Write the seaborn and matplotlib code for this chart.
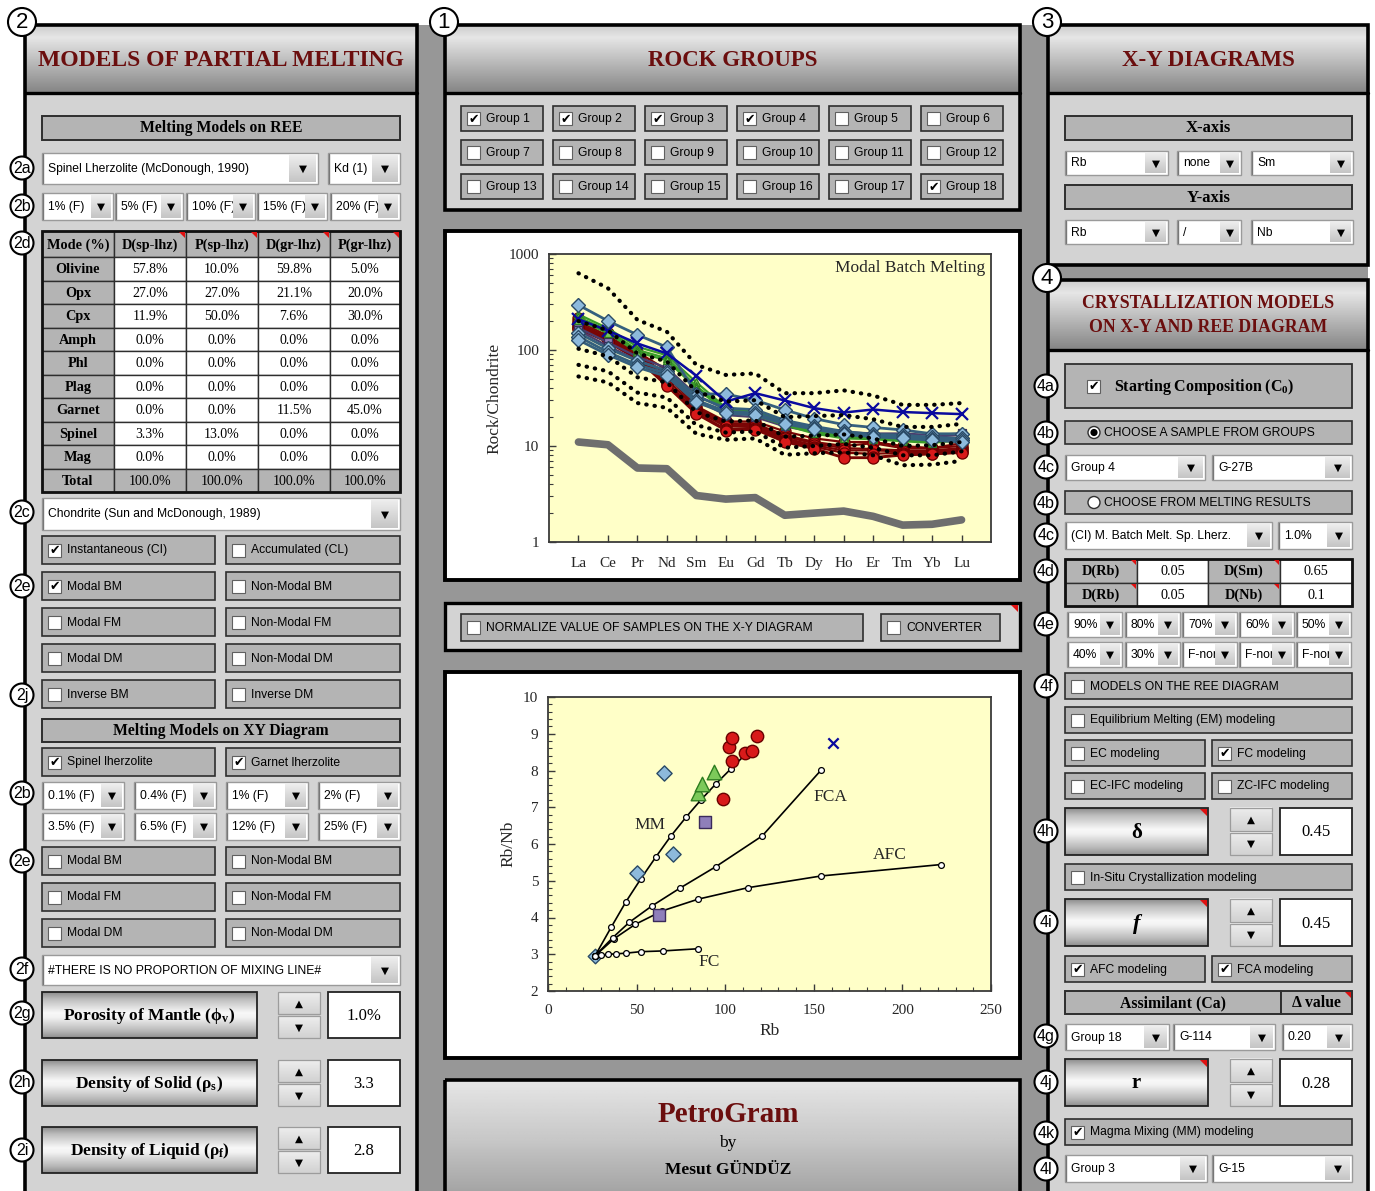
import numpy as np
import pandas as pd
import matplotlib
matplotlib.use("Agg")
import matplotlib.pyplot as plt
from matplotlib.patches import Rectangle, Circle, Polygon
from matplotlib.ticker import MultipleLocator, FixedLocator, LogLocator, NullFormatter
import seaborn as sns

sns.set_theme(style="ticks")
plt.rcParams['font.family'] = ['Liberation Sans', 'DejaVu Sans']
plt.rcParams['mathtext.fontset'] = 'custom'
plt.rcParams['mathtext.rm'] = 'Liberation Serif'
plt.rcParams['mathtext.it'] = 'Liberation Serif:italic'
plt.rcParams['mathtext.bf'] = 'Liberation Serif:bold'

# ---------------- REE diagram (chondrite normalised) ----------------
REE = ["La", "Ce", "Pr", "Nd", "Sm", "Eu", "Gd", "Tb", "Dy", "Ho", "Er", "Tm", "Yb", "Lu"]

source_ree = [11.0, 10.3, 5.9, 5.8, 3.05, 2.8, 2.9, 1.9, 2.0, 2.1, 1.85, 1.5, 1.53, 1.7]

melt_f1 = [630, 440, 206, 155, 70, 55, 57, 35.5, 35.5, 38, 33.6, 26.8, 26.8, 28]
melt_f5 = [200, 160, 92, 76, 37, 29, 30, 20, 20.5, 21, 19, 15.8, 15.8, 17]
melt_f10 = [103, 86, 52, 46, 22.5, 18, 18.5, 12.5, 12.8, 13.2, 12, 10, 10.2, 11]
melt_f15 = [70, 60, 36, 32, 16.5, 13.8, 14.2, 9.6, 10, 10.5, 9.6, 8, 8, 8.8]
melt_f20 = [53, 46, 28, 25, 13.4, 11.6, 12, 8.1, 8.4, 8.6, 8, 6.3, 6.4, 7.0]

grp1_ree = [
    [294, 201, 144, 107, 35, 34.7, 30, 23.8, 19.3, 16.7, 15.6, 14.7, 13.4, 13.4],
    [150, 104, 77, 61, 33, 24.8, 23.9, 18.5, 16, 14.2, 13.2, 13, 12.3, 12],
    [138, 95, 70, 57, 30, 23, 22, 17.5, 15.5, 13.8, 12.8, 12.3, 11.8, 11.5],
    [127, 89, 66, 53, 28.6, 22, 21, 17, 15, 13.2, 12.5, 12, 11.5, 11],
]
grp2_ree = [
    [170, 120, 85, 65, 34, 24, 23, 18, 15.5, 14, 13.5, 13.5, 13, 13.5],
    [160, 110, 78, 60, 30, 21, 20, 16, 14, 13, 12.5, 12.5, 12.5, 13],
]
grp3_ree = [
    [235, 168, 108, 88, 46, 25, 23, 18, 14.5, 13, 12.5, 12, 11.5, 12],
    [220, 160, 100, 82, 42, 24, 22, 17, 14, 12.5, 12, 11.5, 11, 11.8],
    [205, 150, 95, 78, 40, 23, 21, 16.5, 13.5, 12, 11.8, 11.2, 10.8, 11.5],
]
grp4_ree = [
    [215, 150, 95, 62, 26, 18, 18, 14.2, 12, 11, 11, 10, 9.5, 10.7],
    [200, 140, 92, 55, 25, 17.3, 17, 13, 11, 10, 10.7, 9.5, 9.5, 10],
    [190, 135, 90, 50, 24, 16.5, 16.5, 12.5, 10.7, 9.5, 9.3, 9, 9, 9.5],
    [182, 133, 88, 46, 23, 16, 16, 12, 10.2, 9, 9, 8.8, 8.7, 9.2],
    [175, 128, 85, 44, 22, 15, 15.5, 11.6, 9.8, 8.5, 8.3, 8.5, 8.5, 8.8],
    [170, 125, 82, 43, 22, 14.8, 15, 11.2, 9.5, 7.6, 7.6, 8.2, 8.3, 8.6],
    [165, 120, 80, 42, 21.5, 14.5, 14.8, 11, 9.3, 7.5, 7.5, 8, 8.2, 8.5],
]
grp18_ree = [[209, 159, 117, 92, 54, 29, 35.5, 29.8, 24.8, 22.3, 24, 22.6, 22, 21.5]]

# ---------------- X-Y diagram (Rb vs Rb/Nb) ----------------
grp1_rb, grp1_rbnb = [26.6, 50.0, 70.5, 65.3], [2.96, 5.21, 5.73, 7.92]
grp2_rb, grp2_rbnb = [62.6, 88.5], [4.08, 6.60]
grp3_rb, grp3_rbnb = [84.5, 86.8, 93.5], [7.39, 7.64, 7.95]
grp4_rb = [98.7, 101.9, 103.6, 103.8, 111.3, 115.1, 117.8]
grp4_rbnb = [7.23, 8.65, 8.89, 8.27, 8.47, 8.53, 8.95]
grp18_rb, grp18_rbnb = [160.7], [8.75]

mm_rb = [26.6, 35.6, 44.0, 52.5, 60.9, 69.4, 77.9, 86.3, 94.8, 103.3, 111.9]
mm_rbnb = [2.96, 3.73, 4.43, 5.06, 5.65, 6.22, 6.73, 7.20, 7.64, 8.05, 8.46]
fc_rb = [26.6, 29.7, 33.7, 38.4, 44.0, 52.3, 64.7, 84.8]
fc_rbnb = [2.96, 2.97, 3.00, 3.01, 3.03, 3.07, 3.09, 3.15]
fca_rb = [26.6, 36.5, 45.9, 58.5, 74.5, 94.6, 120.9, 154.1]
fca_rbnb = [2.96, 3.45, 3.87, 4.31, 4.80, 5.38, 6.22, 8.01]
afc_rb = [26.6, 37.2, 49.1, 64.5, 84.8, 112.7, 154.1, 221.6]
afc_rbnb = [2.96, 3.42, 3.81, 4.18, 4.50, 4.81, 5.13, 5.44]

# ---------------- mineral modes table ----------------
minerals = ["Olivine", "Opx", "Cpx", "Amph", "Phl", "Plag", "Garnet", "Spinel", "Mag"]
mode_cols = ["Mode (%)", "D(sp-lhz)", "P(sp-lhz)", "D(gr-lhz)", "P(gr-lhz)"]
d_sp_lhz = [57.8, 27.0, 11.9, 0.0, 0.0, 0.0, 0.0, 3.3, 0.0]
p_sp_lhz = [10.0, 27.0, 50.0, 0.0, 0.0, 0.0, 0.0, 13.0, 0.0]
d_gr_lhz = [59.8, 21.1, 7.6, 0.0, 0.0, 0.0, 11.5, 0.0, 0.0]
p_gr_lhz = [5.0, 20.0, 30.0, 0.0, 0.0, 0.0, 45.0, 0.0, 0.0]

# ====================================================================
W, H = 1375, 1191
fig = plt.figure(figsize=(W / 100, H / 100), dpi=100)
fig.patch.set_facecolor('white')
ui = fig.add_axes([0, 0, 1, 1])
ui.axis('off')
ui.set_xlim(0, W)
ui.set_ylim(H, 0)
ui.set_autoscale_on(False)

SANS = ['Liberation Sans', 'DejaVu Sans']
SERIF = ['Liberation Serif', 'DejaVu Serif']
SYM = ['DejaVu Sans']
BG = '#979797'
BODY = '#d3d3d3'
BOX = '#b4b4b4'
EDGE = '#2e2e2e'
TITLE = '#6b0e0e'
HEAD = [(0, 0.80), (0.18, 0.90), (1, 0.52)]
METAL = [(0, 0.55), (0.15, 0.74), (0.45, 0.97), (0.55, 0.95), (0.85, 0.72), (1, 0.56)]


def rect(x0, y0, x1, y1, fc='none', ec='none', lw=1.0, z=1):
    ui.add_patch(Rectangle((x0, y0), x1 - x0, y1 - y0, facecolor=fc,
                           edgecolor=ec, linewidth=lw, zorder=z))


def vgrad(x0, y0, x1, y1, stops, z=1):
    t = np.linspace(0, 1, 80)
    pos, val = zip(*stops)
    g = np.interp(t, pos, val)
    img = np.repeat(g[:, None], 2, axis=1)
    ui.imshow(img, cmap='gray', vmin=0, vmax=1, extent=(x0, x1, y1, y0),
              aspect='auto', interpolation='bilinear', origin='upper', zorder=z)


def txt(x, y, s, size=8.7, family=None, weight='normal', color='black',
        ha='left', va='center', z=6, style='normal'):
    ui.text(x, y, s, fontsize=size, family=family or SANS, fontweight=weight,
            color=color, ha=ha, va=va, zorder=z, fontstyle=style)


def red_corner(x1, y0, s=7):
    ui.add_patch(Polygon([(x1 - s, y0), (x1, y0), (x1, y0 + s)], closed=True,
                         facecolor='#e01010', edgecolor='none', zorder=7))


def checkbox(bx, cy, checked):
    rect(bx, cy - 6.5, bx + 13, cy + 6.5, fc='white', ec='#606060', lw=0.8, z=4)
    if checked:
        txt(bx + 6.5, cy + 0.5, '\u2714', size=9, family=SYM, ha='center', z=5)


def check_box(x0, y0, x1, y1, label, checked=False, size=8.7):
    rect(x0, y0, x1, y1, fc=BOX, ec=EDGE, lw=1.2, z=2)
    cy = (y0 + y1) / 2
    checkbox(x0 + 6, cy, checked)
    txt(x0 + 25, cy + 0.5, label, size=size)


def radio_box(x0, y0, x1, y1, label, on):
    rect(x0, y0, x1, y1, fc=BOX, ec=EDGE, lw=1.2, z=2)
    cy = (y0 + y1) / 2
    ui.add_patch(Circle((x0 + 29, cy), 6, facecolor='white', edgecolor='#303030', lw=1.0, zorder=4))
    if on:
        ui.add_patch(Circle((x0 + 29, cy), 3.6, facecolor='black', edgecolor='none', zorder=5))
    txt(x0 + 39, cy + 0.5, label, size=8.7)


def title_box(x0, y0, x1, y1, label, size=11.3):
    rect(x0, y0, x1, y1, fc=BOX, ec=EDGE, lw=1.4, z=2)
    txt((x0 + x1) / 2, (y0 + y1) / 2 + 0.5, label, size=size, family=SERIF,
        weight='bold', ha='center')


def dropdown(x0, y0, x1, y1, label, btn=24, size=8.7):
    rect(x0, y0, x1, y1, fc='white', ec='#9a9a9a', lw=1.0, z=2)
    ui.plot([x0 + 1, x0 + 1], [y0 + 1, y1 - 1], color='#777777', lw=1.0, zorder=3)
    txt(x0 + 6, (y0 + y1) / 2 + 0.5, label, size=size, z=3)
    vgrad(x1 - btn - 1, y0 + 2, x1 - 2, y1 - 2, [(0, 0.93), (1, 0.77)], z=4)
    txt(x1 - btn / 2 - 1.5, (y0 + y1) / 2 + 0.5, '\u25BC', size=7.5, family=SYM, ha='center', z=5)


def spinner(x0, y0, x1, y1):
    ym = (y0 + y1) / 2
    for a, b, glyph in [(y0, ym - 1, '\u25B2'), (ym + 1, y1, '\u25BC')]:
        vgrad(x0, a, x1, b, [(0, 0.93), (1, 0.82)], z=3)
        rect(x0, a, x1, b, ec='#9c9c9c', lw=0.9, z=4)
        txt((x0 + x1) / 2, (a + b) / 2 + 0.5, glyph, size=7.5, family=SYM, ha='center', z=5)


def value_box(x0, y0, x1, y1, label):
    rect(x0, y0, x1, y1, fc='white', ec='#222222', lw=1.3, z=3)
    txt((x0 + x1) / 2, (y0 + y1) / 2 + 1, label, size=12, family=SERIF, ha='center')


def metal_button(x0, y0, x1, y1, label, size=12.5, style='normal', corner=False):
    vgrad(x0, y0, x1, y1, METAL, z=2)
    rect(x0, y0, x1, y1, ec='#222222', lw=1.3, z=3)
    txt((x0 + x1) / 2, (y0 + y1) / 2 + 1, label, size=size, family=SERIF,
        weight='bold', ha='center', style=style)
    if corner:
        red_corner(x1 - 1, y0 + 1)


def badge(x, y, s, r=11.5, size=11.5):
    ui.add_patch(Circle((x, y), r, facecolor='white', edgecolor='black', lw=1.5, zorder=8))
    txt(x, y + 0.5, s, size=size, ha='center', z=9)


def panel(x0, y0, yh, x1, y1, lines, size, line_y):
    vgrad(x0, y0, x1, yh, HEAD, z=1)
    rect(x0, yh, x1, y1, fc=BODY, z=1)
    ui.plot([x0, x1], [yh, yh], color='black', lw=2.4, zorder=3)
    rect(x0, y0, x1, y1, ec='black', lw=2.6, z=3)
    for s, ly in zip(lines, line_y):
        txt((x0 + x1) / 2, ly, s, size=size, family=SERIF, weight='bold',
            color=TITLE, ha='center')


# background between the panels
rect(25, 25, 1368, H + 10, fc=BG, z=0)

# ---------------- panel 2: partial melting ----------------
panel(25, 25, 93, 417, H + 10, ["MODELS OF PARTIAL MELTING"], 17, [60])
title_box(42, 116, 400, 140, "Melting Models on REE")
dropdown(42, 153, 318, 184, "Spinel Lherzolite (McDonough, 1990)", btn=28)
dropdown(328, 153, 400, 184, "Kd (1)", btn=27)
for (a, b), lab in zip([(42, 113), (115, 183), (186, 255), (257, 327), (330, 400)],
                       ["1% (F)", "5% (F)", "10% (F)", "15% (F)", "20% (F)"]):
    dropdown(a, 193, b, 220, lab, btn=21)

# mineral modes table
col_x = [42, 114, 186, 258, 330, 400]
row_y = [231] + [257 + 23.5 * i for i in range(11)]
mode_values = [d_sp_lhz, p_sp_lhz, d_gr_lhz, p_gr_lhz]
for j in range(5):
    rect(col_x[j], row_y[0], col_x[j + 1], row_y[1], fc=BOX, ec=EDGE, lw=1.0, z=2)
    txt((col_x[j] + col_x[j + 1]) / 2, (row_y[0] + row_y[1]) / 2 + 1, mode_cols[j],
        size=10.3, family=SERIF, weight='bold', ha='center')
    if j > 0:
        red_corner(col_x[j + 1] - 1, row_y[0] + 1, s=6)
for i, name in enumerate(minerals + ["Total"]):
    y0, y1 = row_y[i + 1], row_y[i + 2]
    total_row = name == "Total"
    rect(col_x[0], y0, col_x[1], y1, fc=BOX, ec=EDGE, lw=1.0, z=2)
    txt((col_x[0] + col_x[1]) / 2, (y0 + y1) / 2 + 1, name, size=10.3, family=SERIF,
        weight='bold', ha='center')
    for j, vals in enumerate(mode_values):
        v = sum(vals) if total_row else vals[i]
        rect(col_x[j + 1], y0, col_x[j + 2], y1, fc=BOX if total_row else 'white',
             ec=EDGE, lw=1.0, z=2)
        txt((col_x[j + 1] + col_x[j + 2]) / 2, (y0 + y1) / 2 + 1, f"{v:.1f}%", size=10,
            family=SERIF, ha='center')
rect(42, 231, 400, row_y[-1], ec='#111111', lw=2.0, z=3)

dropdown(42, 498, 400, 530, "Chondrite (Sun and McDonough, 1989)", btn=28)
pairs = [(536, "Instantaneous (CI)", True, "Accumulated (CL)", False),
         (572, "Modal BM", True, "Non-Modal BM", False),
         (608, "Modal FM", False, "Non-Modal FM", False),
         (644, "Modal DM", False, "Non-Modal DM", False),
         (680, "Inverse BM", False, "Inverse DM", False)]
for y0, l1, c1, l2, c2 in pairs:
    check_box(42, y0, 215, y0 + 28, l1, c1)
    check_box(226, y0, 400, y0 + 28, l2, c2)
title_box(42, 719, 400, 742, "Melting Models on XY Diagram")
check_box(42, 748, 215, 776, "Spinel lherzolite", True)
check_box(226, 748, 400, 776, "Garnet lherzolite", True)
xy_cols = [(42, 124), (134, 216), (226, 308), (318, 400)]
for y0, labs in [(782, ["0.1% (F)", "0.4% (F)", "1% (F)", "2% (F)"]),
                 (813, ["3.5% (F)", "6.5% (F)", "12% (F)", "25% (F)"])]:
    for (a, b), lab in zip(xy_cols, labs):
        dropdown(a, y0, b, y0 + 27, lab, btn=22)
for y0, l1, l2 in [(847, "Modal BM", "Non-Modal BM"), (883, "Modal FM", "Non-Modal FM"),
                   (919, "Modal DM", "Non-Modal DM")]:
    check_box(42, y0, 215, y0 + 28, l1)
    check_box(226, y0, 400, y0 + 28, l2)
dropdown(42, 955, 400, 985, "#THERE IS NO PROPORTION OF MIXING LINE#", btn=28)
for y0, lab, val in [(992, r"$\mathbf{Porosity\ of\ Mantle\ (\phi_v)}$", "1.0%"),
                     (1060, r"$\mathbf{Density\ of\ Solid\ (\rho_s)}$", "3.3"),
                     (1127, r"$\mathbf{Density\ of\ Liquid\ (\rho_f)}$", "2.8")]:
    metal_button(42, y0, 257, y0 + 46, lab, size=12.5)
    spinner(278, y0, 320, y0 + 46)
    value_box(328, y0, 400, y0 + 46, val)

for lab, y in [("2a", 168), ("2b", 206), ("2d", 243), ("2c", 512), ("2e", 586), ("2j", 695),
               ("2b", 793), ("2e", 861), ("2f", 969), ("2g", 1013), ("2h", 1082), ("2i", 1150)]:
    badge(22, y, lab)
badge(22, 22, "2", r=14, size=16)

# ---------------- panel 1: rock groups and diagrams ----------------
panel(445, 25, 93, 1020, 210, ["ROCK GROUPS"], 16.5, [60])
checked_groups = {1, 2, 3, 4, 18}
for k in range(18):
    r, c = divmod(k, 6)
    x0 = 461 + 92 * c
    y0 = [106, 140, 174][r]
    check_box(x0, y0, x0 + 82, y0 + 25, f"Group {k + 1}", (k + 1) in checked_groups)
badge(444, 22, "1", r=14, size=16)

rect(445, 231, 1020, 580, fc='white', ec='black', lw=2.8, z=1)
rect(445, 603, 1020, 650, fc=BODY, ec='black', lw=2.4, z=1)
check_box(461, 614, 863, 641, "NORMALIZE VALUE OF SAMPLES ON THE X-Y DIAGRAM")
check_box(881, 614, 1000, 641, "CONVERTER")
red_corner(1018, 605, s=7)
rect(445, 672, 1020, 1058, fc='white', ec='black', lw=2.8, z=1)
vgrad(445, 1080, 1020, H + 10, [(0, 0.90), (0.5, 0.78), (1, 0.62)], z=1)
rect(445, 1080, 1020, H + 10, ec='black', lw=2.6, z=3)
txt(728, 1115, "PetroGram", size=21, family=SERIF, weight='bold', color=TITLE, ha='center')
txt(728, 1143, "by", size=12.5, family=SERIF, ha='center')
txt(728, 1170, "Mesut GÜNDÜZ", size=12.5, family=SERIF, weight='bold', ha='center')

# ---------------- panel 3: X-Y diagram selectors ----------------
panel(1048, 25, 93, 1368, 265, ["X-Y DIAGRAMS"], 16.5, [60])
title_box(1065, 116, 1352, 140, "X-axis", size=12)
dropdown(1065, 151, 1168, 175, "Rb", btn=22)
dropdown(1177, 151, 1241, 175, "none", btn=20)
dropdown(1251, 151, 1353, 175, "Sm", btn=22)
title_box(1065, 185, 1352, 209, "Y-axis", size=12)
dropdown(1065, 220, 1168, 244, "Rb", btn=22)
dropdown(1177, 220, 1241, 244, "/", btn=20)
dropdown(1251, 220, 1353, 244, "Nb", btn=22)
badge(1047, 22, "3", r=14, size=16)

# ---------------- panel 4: crystallization models ----------------
panel(1048, 280, 350, 1368, H + 10, ["CRYSTALLIZATION MODELS", "ON X-Y AND REE DIAGRAM"],
      12.8, [303, 327])
rect(1065, 364, 1352, 408, fc=BOX, ec=EDGE, lw=1.3, z=2)
checkbox(1087, 386, True)
txt(1114, 387, r"$\mathbf{Starting\ Composition\ (C_0)}$", size=11.5)
radio_box(1065, 421, 1352, 444, "CHOOSE A SAMPLE FROM GROUPS", True)
dropdown(1065, 455, 1205, 480, "Group 4", btn=26)
dropdown(1212, 455, 1352, 480, "G-27B", btn=26)
radio_box(1065, 491, 1352, 514, "CHOOSE FROM MELTING RESULTS", False)
dropdown(1065, 522, 1272, 549, "(CI) M. Batch Melt. Sp. Lherz.", btn=24)
dropdown(1278, 522, 1352, 549, "1.0%", btn=24)

d_cells = [[("D(Rb)", True), ("0.05", False), ("D(Sm)", True), ("0.65", False)],
           [("D(Rb)", True), ("0.05", False), ("D(Nb)", True), ("0.1", False)]]
dx = [1065, 1137, 1208, 1280, 1352]
for i, row in enumerate(d_cells):
    y0, y1 = 559 + 23.5 * i, 559 + 23.5 * (i + 1)
    for j, (lab, head) in enumerate(row):
        rect(dx[j], y0, dx[j + 1], y1, fc=BOX if head else 'white', ec=EDGE, lw=1.0, z=2)
        txt((dx[j] + dx[j + 1]) / 2, (y0 + y1) / 2 + 1, lab, size=10.3, family=SERIF,
            weight='bold' if head else 'normal', ha='center')
        if head:
            red_corner(dx[j + 1] - 1, y0 + 1, s=5)
rect(1065, 559, 1352, 606, ec='#111111', lw=2.0, z=3)

ex = [1067, 1125, 1182, 1239, 1296]
for y0, labs in [(612, ["90%", "80%", "70%", "60%", "50%"]),
                 (642, ["40%", "30%", "F-nor", "F-nor", "F-nor"])]:
    for a, lab in zip(ex, labs):
        dropdown(a, y0, a + 55, y0 + 25, lab, btn=21)
check_box(1065, 673, 1352, 699, "MODELS ON THE REE DIAGRAM")
check_box(1065, 707, 1352, 733, "Equilibrium Melting (EM) modeling")
check_box(1065, 740, 1205, 766, "EC modeling")
check_box(1212, 740, 1352, 766, "FC modeling", True)
check_box(1065, 773, 1205, 799, "EC-IFC modeling")
check_box(1212, 773, 1352, 799, "ZC-IFC modeling")
metal_button(1065, 808, 1208, 855, "\u03b4", size=15, corner=True)
spinner(1230, 808, 1272, 855)
value_box(1280, 808, 1352, 855, "0.45")
check_box(1065, 864, 1352, 890, "In-Situ Crystallization modeling")
metal_button(1065, 899, 1208, 946, "f", size=16, style='italic', corner=True)
spinner(1230, 899, 1272, 946)
value_box(1280, 899, 1352, 946, "0.45")
check_box(1065, 956, 1205, 982, "AFC modeling", True)
check_box(1212, 956, 1352, 982, "FCA modeling", True)
title_box(1065, 991, 1281, 1014, "Assimilant (Ca)", size=11.3)
title_box(1281, 991, 1352, 1014, "\u0394 value", size=11.3)
red_corner(1351, 992, s=6)
dropdown(1065, 1024, 1169, 1050, "Group 18", btn=24)
dropdown(1173, 1024, 1275, 1050, "G-114", btn=24)
dropdown(1282, 1024, 1352, 1050, "0.20", btn=24)
metal_button(1065, 1059, 1208, 1106, "r", size=15, corner=True)
spinner(1230, 1059, 1272, 1106)
value_box(1280, 1059, 1352, 1106, "0.28")
check_box(1065, 1119, 1352, 1145, "Magma Mixing (MM) modeling", True)
dropdown(1065, 1155, 1207, 1182, "Group 3", btn=26)
dropdown(1212, 1155, 1352, 1182, "G-15", btn=26)

for lab, y in [("4a", 386), ("4b", 433), ("4c", 467), ("4b", 503), ("4c", 535), ("4d", 571),
               ("4e", 624), ("4f", 686), ("4h", 831), ("4i", 922), ("4g", 1036), ("4j", 1082),
               ("4k", 1133), ("4l", 1169)]:
    badge(1046, y, lab)
badge(1047, 278, "4", r=14, size=16)

ui.set_xlim(0, W)
ui.set_ylim(H, 0)

# ====================== REE spider diagram ======================
CHART_BG = '#ffffc8'
SPINE = '#3a3a3a'


def ree_frame(rows, group):
    recs = []
    for s, vals in enumerate(rows):
        for k, v in enumerate(vals):
            recs.append({"sample": f"{group}-{s}", "pos": k, "value": v})
    return pd.DataFrame(recs)


ax1 = fig.add_axes([549 / W, 1 - 542 / H, 442 / W, 288 / H])
ax1.set_facecolor(CHART_BG)

sns.lineplot(data=ree_frame([source_ree], "src"), x="pos", y="value", units="sample",
             estimator=None, color='#6e6e6e', lw=5.5, ax=ax1, zorder=2)
sns.lineplot(data=ree_frame(grp4_ree, "g4"), x="pos", y="value", units="sample",
             estimator=None, color='#7a0505', lw=1.6, marker='o', markersize=8,
             markerfacecolor='#d81a1a', markeredgecolor='#6a0000', markeredgewidth=0.9,
             ax=ax1, zorder=3)
sns.lineplot(data=ree_frame(grp2_ree, "g2"), x="pos", y="value", units="sample",
             estimator=None, color='#4a3d6e', lw=1.6, marker='s', markersize=6,
             markerfacecolor='#8f7fba', markeredgecolor='#3a2a5a', markeredgewidth=0.9,
             ax=ax1, zorder=4)
sns.lineplot(data=ree_frame(grp3_ree, "g3"), x="pos", y="value", units="sample",
             estimator=None, color='#3a9c2a', lw=1.6, marker='^', markersize=6,
             markerfacecolor='#7cc95a', markeredgecolor='#2e7d20', markeredgewidth=0.9,
             ax=ax1, zorder=5)
sns.lineplot(data=ree_frame(grp1_ree, "g1"), x="pos", y="value", units="sample",
             estimator=None, color='#35607e', lw=2.0, marker='D', markersize=7.5,
             markerfacecolor='#8dbadc', markeredgecolor='#2a4a66', markeredgewidth=1.0,
             ax=ax1, zorder=6)
sns.lineplot(data=ree_frame(grp18_ree, "g18"), x="pos", y="value", units="sample",
             estimator=None, color='#0a0a9e', lw=1.8, marker='x', markersize=8,
             markeredgecolor='#0a0a9e', markeredgewidth=1.6, ax=ax1, zorder=7)
for vals in [melt_f1, melt_f5, melt_f10, melt_f15, melt_f20]:
    sns.lineplot(x=list(range(len(REE))), y=vals, color='black', lw=3.0,
                 linestyle=(0, (0.1, 1.9)), dash_capstyle='round', ax=ax1, zorder=8)

ax1.set_yscale('log')
ax1.set_ylim(1, 1000)
ax1.set_xlim(-1, 14)
ax1.xaxis.set_major_locator(FixedLocator(range(len(REE))))
ax1.set_xticklabels(REE)
ax1.yaxis.set_major_locator(FixedLocator([1, 10, 100, 1000]))
ax1.set_yticklabels(["1", "10", "100", "1000"])
ax1.yaxis.set_minor_locator(LogLocator(base=10, subs=np.arange(2, 10)))
ax1.yaxis.set_minor_formatter(NullFormatter())
ax1.set_xlabel("")
ax1.set_ylabel("Rock/Chondrite", fontsize=12.5, family=SERIF)
ax1.yaxis.set_label_coords(-0.105, 0.5)
ax1.text(0.986, 0.978, "Modal Batch Melting", transform=ax1.transAxes, ha='right',
         va='top', fontsize=12.5, family=SERIF)

# ====================== X-Y diagram ======================
ax2 = fig.add_axes([548 / W, 1 - 991 / H, 443 / W, 294 / H])
ax2.set_facecolor(CHART_BG)

models = pd.DataFrame({
    "model": ["MM"] * len(mm_rb) + ["FC"] * len(fc_rb) + ["FCA"] * len(fca_rb) + ["AFC"] * len(afc_rb),
    "Rb": mm_rb + fc_rb + fca_rb + afc_rb,
    "RbNb": mm_rbnb + fc_rbnb + fca_rbnb + afc_rbnb,
})
sns.scatterplot(x=grp1_rb[:1], y=grp1_rbnb[:1], marker='D', s=55, color='#8dbadc',
                edgecolor='#2a4a66', linewidth=1.0, ax=ax2, zorder=2)
sns.lineplot(data=models, x="Rb", y="RbNb", units="model", estimator=None, sort=False,
             color='black', lw=1.2, marker='o', markersize=4.2, markerfacecolor='white',
             markeredgecolor='black', markeredgewidth=0.9, ax=ax2, zorder=3)
sns.scatterplot(x=grp1_rb[1:], y=grp1_rbnb[1:], marker='D', s=60, color='#8dbadc',
                edgecolor='#2a4a66', linewidth=1.0, ax=ax2, zorder=4)
sns.scatterplot(x=grp2_rb, y=grp2_rbnb, marker='s', s=75, color='#8f7fba',
                edgecolor='#3a2a5a', linewidth=1.0, ax=ax2, zorder=4)
sns.scatterplot(x=grp3_rb, y=grp3_rbnb, marker='^', s=110, color='#7cc95a',
                edgecolor='#2e7d20', linewidth=1.0, ax=ax2, zorder=4)
sns.scatterplot(x=grp4_rb, y=grp4_rbnb, marker='o', s=80, color='#d81a1a',
                edgecolor='#6a0000', linewidth=1.0, ax=ax2, zorder=4)
sns.scatterplot(x=grp18_rb, y=grp18_rbnb, marker='x', s=55, color='#0a0a9e',
                linewidth=1.6, ax=ax2, zorder=4)
for lab, x, y in [("MM", 57.5, 6.51), ("FCA", 159.4, 7.27), ("AFC", 192.9, 5.69), ("FC", 90.8, 2.79)]:
    ax2.text(x, y, lab, fontsize=12.5, family=SERIF, ha='center', va='center', zorder=6)

ax2.set_xlim(0, 250)
ax2.set_ylim(2, 10)
ax2.xaxis.set_major_locator(MultipleLocator(50))
ax2.xaxis.set_minor_locator(MultipleLocator(10))
ax2.yaxis.set_major_locator(MultipleLocator(1))
ax2.yaxis.set_minor_locator(MultipleLocator(0.2))
ax2.set_xlabel("Rb", fontsize=12.5, family=SERIF)
ax2.set_ylabel("Rb/Nb", fontsize=12.5, family=SERIF)
ax2.xaxis.set_label_coords(0.5, -0.11)
ax2.yaxis.set_label_coords(-0.072, 0.5)

for ax in (ax1, ax2):
    for sp in ax.spines.values():
        sp.set_color(SPINE)
        sp.set_linewidth(1.3)
    ax.tick_params(which='both', direction='in', color=SPINE, top=False, right=False)
    ax.tick_params(which='major', length=5, width=1.0, labelsize=11, pad=7)
    ax.tick_params(which='minor', length=3, width=0.8)
    for lab in ax.get_xticklabels() + ax.get_yticklabels():
        lab.set_family(SERIF)
    ax.grid(False)
ax1.tick_params(axis='x', which='minor', bottom=False)
ax1.tick_params(axis='x', which='major', pad=11)
ax2.tick_params(axis='x', which='major', pad=9)

fig.savefig("out.png", dpi=100, facecolor='white')
